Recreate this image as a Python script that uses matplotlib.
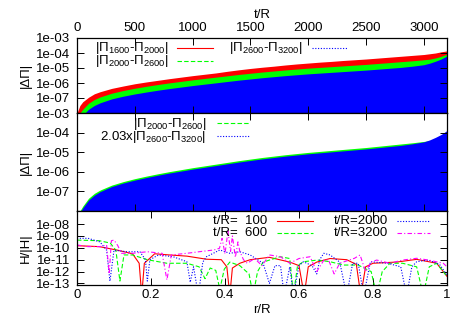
import numpy as np
import matplotlib
matplotlib.use("Agg")
import matplotlib.pyplot as plt
from matplotlib.ticker import FixedLocator, FuncFormatter, LogLocator, NullFormatter
from matplotlib.lines import Line2D

plt.rcParams['font.family'] = ['Liberation Sans', 'DejaVu Sans']
plt.rcParams['mathtext.fontset'] = 'custom'
plt.rcParams['mathtext.rm'] = 'Liberation Sans'
plt.rcParams['mathtext.it'] = 'Liberation Sans:italic'
plt.rcParams['mathtext.bf'] = 'Liberation Sans:bold'

# ---------------- data ----------------
# top two panels: upper envelopes (log10) of the dense oscillating differences vs t/R
t_env = [0, 25, 50, 100, 150, 200, 300, 400, 500, 600, 700, 800, 900, 1000, 1100, 1200,
         1300, 1400, 1500, 1600, 1700, 1800, 1900, 2000, 2100, 2200, 2300, 2400, 2500,
         2600, 2700, 2800, 2900, 3000, 3050, 3100, 3150, 3200]
red_1600_2000 = [-8.0, -7.5, -7.25, -6.95, -6.72, -6.58, -6.36, -6.2, -6.05, -5.93, -5.82,
                 -5.71, -5.61, -5.51, -5.42, -5.33, -5.22, -5.12, -5.03, -4.95, -4.88, -4.8,
                 -4.73, -4.67, -4.61, -4.56, -4.5, -4.45, -4.4, -4.34, -4.28, -4.22, -4.16,
                 -4.1, -4.05, -4.0, -3.92, -3.86]
green_2000_2600 = [-8.3, -8.0, -7.75, -7.35, -7.1, -6.93, -6.68, -6.5, -6.35, -6.22, -6.1,
                   -5.99, -5.89, -5.79, -5.7, -5.61, -5.52, -5.43, -5.35, -5.27, -5.2, -5.13,
                   -5.07, -5.01, -4.96, -4.91, -4.86, -4.81, -4.76, -4.7, -4.64, -4.58, -4.52,
                   -4.45, -4.41, -4.33, -4.22, -4.08]
blue_2600_3200 = [-8.7, -8.4, -8.15, -7.75, -7.5, -7.32, -7.06, -6.88, -6.73, -6.6, -6.48,
                  -6.37, -6.27, -6.17, -6.08, -5.99, -5.9, -5.81, -5.73, -5.65, -5.58, -5.51,
                  -5.45, -5.39, -5.34, -5.29, -5.24, -5.19, -5.14, -5.08, -5.02, -4.96, -4.88,
                  -4.78, -4.68, -4.55, -4.4, -4.2]
scale_factor = 2.03

# bottom panel: constraint profiles vs r/R (log10)
r_100 = [0, 0.06, 0.11, 0.15, 0.168, 0.175, 0.182, 0.21, 0.25, 0.297, 0.35, 0.39, 0.405,
         0.413, 0.42, 0.44, 0.468, 0.52, 0.575, 0.6, 0.614, 0.625, 0.648, 0.684, 0.729,
         0.755, 0.767, 0.78, 0.80, 0.864, 0.918, 0.972, 1.0]
h_100 = [-9.82, -9.9, -10.2, -10.5, -11.3, -14, -11.3, -10.5, -10.6, -10.7, -10.96, -11.0,
         -11.6, -14, -11.7, -11.3, -11.0, -10.8, -11.2, -11.5, -14, -11.6, -11.2, -10.9,
         -11.0, -11.4, -14, -11.6, -11.3, -11.2, -10.97, -11.3, -12.4]

r_600 = [0, 0.06, 0.09, 0.105, 0.116, 0.127, 0.15, 0.19, 0.243, 0.297, 0.33, 0.346, 0.36,
         0.375, 0.386, 0.398, 0.413, 0.44, 0.465, 0.476, 0.488, 0.503, 0.549, 0.575, 0.585,
         0.596, 0.612, 0.65, 0.684, 0.72, 0.76, 0.795, 0.81, 0.825, 0.846, 0.88, 0.918,
         0.936, 0.952, 0.972, 1.0]
h_600 = [-9.35, -9.4, -9.6, -10.2, -12.8, -10.6, -10.6, -11.0, -11.3, -11.3, -11.6, -12.6,
         -11.7, -11.9, -13.5, -11.8, -11.2, -11.5, -12.2, -14, -12.0, -11.2, -10.75, -10.9,
         -14, -11.5, -11.17, -11.03, -11.17, -11.45, -11.45, -12.0, -14, -12.0, -11.3,
         -11.3, -11.6, -14, -11.6, -11.3, -12.4]

r_2000 = [0, 0.03, 0.062, 0.08, 0.089, 0.1, 0.135, 0.17, 0.185, 0.19, 0.197, 0.22, 0.26,
          0.297, 0.306, 0.315, 0.328, 0.34, 0.35, 0.386, 0.413, 0.44, 0.468, 0.503, 0.52,
          0.535, 0.55, 0.56, 0.575, 0.585, 0.6, 0.612, 0.635, 0.648, 0.656, 0.667, 0.684,
          0.71, 0.729, 0.745, 0.76, 0.775, 0.793, 0.84, 0.875, 0.891, 0.905, 0.918, 0.95,
          0.98, 1.0]
h_2000 = [-9.2, -9.2, -9.5, -10.2, -12.8, -10.2, -10.33, -10.33, -11.0, -12.8, -11.0, -10.6,
          -10.75, -11.17, -12.9, -11.6, -14, -11.2, -10.75, -10.18, -10.46, -10.33, -10.6,
          -11.3, -13.0, -11.5, -11.5, -14, -11.6, -14, -11.5, -11.17, -11.5, -12.2, -11.0,
          -10.46, -10.6, -11.2, -14, -11.3, -11.3, -14, -11.17, -11.3, -11.6, -14, -11.6,
          -11.17, -11.03, -11.4, -12.3]

r_3200 = [0, 0.03, 0.062, 0.08, 0.087, 0.093, 0.1, 0.11, 0.12, 0.15, 0.19, 0.23, 0.243,
          0.255, 0.297, 0.33, 0.37, 0.385, 0.392, 0.40, 0.408, 0.415, 0.42, 0.428, 0.435,
          0.44, 0.45, 0.46, 0.48, 0.5, 0.52, 0.55, 0.575, 0.6, 0.63, 0.648, 0.668, 0.68,
          0.695, 0.71, 0.75, 0.765, 0.78, 0.795, 0.81, 0.846, 0.88, 0.918, 0.95, 0.99, 1.0]
h_3200 = [-9.76, -9.9, -9.9, -9.76, -12.2, -9.4, -9.35, -9.8, -10.46, -10.46, -10.33, -10.46,
          -12.7, -10.6, -10.46, -10.33, -10.18, -10.04, -9.2, -10.5, -8.6, -10.3, -9.0, -10.8,
          -9.5, -10.3, -11.0, -11.3, -10.9, -11.5, -10.6, -10.75, -11.3, -10.9, -10.75, -12.0,
          -11.0, -11.03, -12.2, -11.3, -10.88, -10.6, -12.0, -11.2, -11.03, -11.3, -11.03,
          -10.88, -11.03, -11.3, -11.6]

t_ticks = [0, 500, 1000, 1500, 2000, 2500, 3000]
r_ticks = [0, 0.2, 0.4, 0.6, 0.8, 1.0]
dpi_ticks = [1e-7, 1e-6, 1e-5, 1e-4, 1e-3]
h_ticks = [1e-13, 1e-12, 1e-11, 1e-10, 1e-9, 1e-8]

# ---------------- figure ----------------
W, H = 463, 324
fig = plt.figure(figsize=(W / 100, H / 100), dpi=100)

def P(x, y):
    return (x / W, 1 - y / H)

def ax_rect(x0, y0, x1, y1):
    return [x0 / W, 1 - y1 / H, (x1 - x0) / W, (y1 - y0) / H]

RED, GREEN, BLUE, MAG = '#ff0000', '#00ff00', '#0000ff', '#ff00ff'
FS = 9.5
fmt = FuncFormatter(lambda v, p: "1e-%02d" % int(round(-np.log10(v))))

ax1 = fig.add_axes(ax_rect(77, 38, 447, 113))
ax2 = fig.add_axes(ax_rect(77, 113, 447, 211))
ax3 = fig.add_axes(ax_rect(77, 211, 447, 285))

t_arr = np.array(t_env, dtype=float)
floor = 1e-9
ax1.fill_between(t_arr, floor, 10 ** np.array(red_1600_2000), color=RED, lw=0)
ax1.fill_between(t_arr, floor, 10 ** np.array(green_2000_2600), color=GREEN, lw=0)
ax1.fill_between(t_arr, floor, 10 ** np.array(blue_2600_3200), color=BLUE, lw=0)

ax2.fill_between(t_arr, floor, 10 ** np.array(green_2000_2600), color=GREEN, lw=0)
ax2.fill_between(t_arr, floor, scale_factor * 10 ** np.array(blue_2600_3200), color=BLUE, lw=0)

for ax in (ax1, ax2):
    ax.set_yscale('log')
    ax.set_xlim(0, 3200)
    ax.set_ylim(1e-8, 1e-3)
    ax.yaxis.set_major_locator(FixedLocator(dpi_ticks))
    ax.yaxis.set_major_formatter(fmt)
    ax.yaxis.set_minor_locator(LogLocator(base=10, subs=np.arange(2, 10)))
    ax.yaxis.set_minor_formatter(NullFormatter())
    ax.xaxis.set_major_locator(FixedLocator(t_ticks))
    ax.set_ylabel('|ΔΠ|', fontsize=FS, labelpad=3)

ax1.xaxis.set_ticks_position('both')
ax1.tick_params(axis='x', which='both', labeltop=True, labelbottom=False)
ax1.xaxis.set_label_position('top')
ax1.set_xlabel('t/R', fontsize=FS, labelpad=3)
ax2.tick_params(axis='x', labelbottom=False, labeltop=False)

ax3.plot(r_100, 10 ** np.array(h_100), color=RED, lw=0.8, ls='-')
ax3.plot(r_600, 10 ** np.array(h_600), color=GREEN, lw=0.8, ls=(0, (4, 2)))
ax3.plot(r_2000, 10 ** np.array(h_2000), color=BLUE, lw=0.8, ls=(0, (1, 1.5)))
ax3.plot(r_3200, 10 ** np.array(h_3200), color=MAG, lw=0.8, ls=(0, (4, 2, 1, 2)))
ax3.set_yscale('log')
ax3.set_xlim(0, 1)
ax3.set_ylim(10 ** -13.13, 10 ** -6.9)
ax3.yaxis.set_major_locator(FixedLocator(h_ticks))
ax3.yaxis.set_major_formatter(fmt)
ax3.yaxis.set_minor_locator(LogLocator(base=10, subs=np.arange(2, 10)))
ax3.yaxis.set_minor_formatter(NullFormatter())
ax3.xaxis.set_major_locator(FixedLocator(r_ticks))
ax3.xaxis.set_major_formatter(FuncFormatter(lambda v, p: "%g" % v))
ax3.set_xlabel('r/R', fontsize=FS, labelpad=2)
ax3.set_ylabel('H/|H|', fontsize=FS, labelpad=3)

for ax in (ax1, ax2, ax3):
    ax.tick_params(which='both', direction='in', top=True, right=True, labelsize=FS)
    ax.tick_params(axis='y', which='both', pad=5)
    ax.tick_params(axis='x', which='both', pad=3)
    ax.tick_params(which='major', length=5, width=0.7)
    ax.tick_params(which='minor', length=2.5, width=0.6)
    ax.tick_params(axis='x', which='minor', top=False, bottom=False)
    for s in ax.spines.values():
        s.set_linewidth(0.9)
        s.set_color('black')
        s.set_zorder(5)

# ---------------- legends ----------------
def leg_text(x, y, s, ha='left'):
    fig.text(*P(x, y), s, ha=ha, va='center', fontsize=FS)

def leg_line(x0, x1, y, color, ls):
    fig.add_artist(Line2D([x0 / W, x1 / W], [1 - y / H, 1 - y / H], color=color, lw=0.8,
                          ls=ls, transform=fig.transFigure))

leg_text(95, 48, '|Π$_{1600}$-Π$_{2000}$|')
leg_line(177, 213, 48, RED, '-')
leg_text(95, 61, '|Π$_{2000}$-Π$_{2600}$|')
leg_line(177, 213, 61, GREEN, (0, (4, 2)))
leg_text(229, 48, '|Π$_{2600}$-Π$_{3200}$|')
leg_line(312, 347, 48, BLUE, (0, (1, 1.5)))

leg_text(206, 124, '|Π$_{2000}$-Π$_{2600}$|', ha='right')
leg_line(217, 250, 123, GREEN, (0, (4, 2)))
leg_text(206, 137, '2.03x|Π$_{2600}$-Π$_{3200}$|', ha='right')
leg_line(217, 250, 136, BLUE, (0, (1, 1.5)))

leg_text(267, 221, 't/R=  100', ha='right')
leg_line(277, 313, 221, RED, '-')
leg_text(267, 233, 't/R=  600', ha='right')
leg_line(277, 313, 233, GREEN, (0, (4, 2)))
leg_text(388, 221, 't/R=2000', ha='right')
leg_line(397, 430, 221, BLUE, (0, (1, 1.5)))
leg_text(388, 233, 't/R=3200', ha='right')
leg_line(397, 430, 233, MAG, (0, (4, 2, 1, 2)))

fig.savefig('out.png', dpi=100)
